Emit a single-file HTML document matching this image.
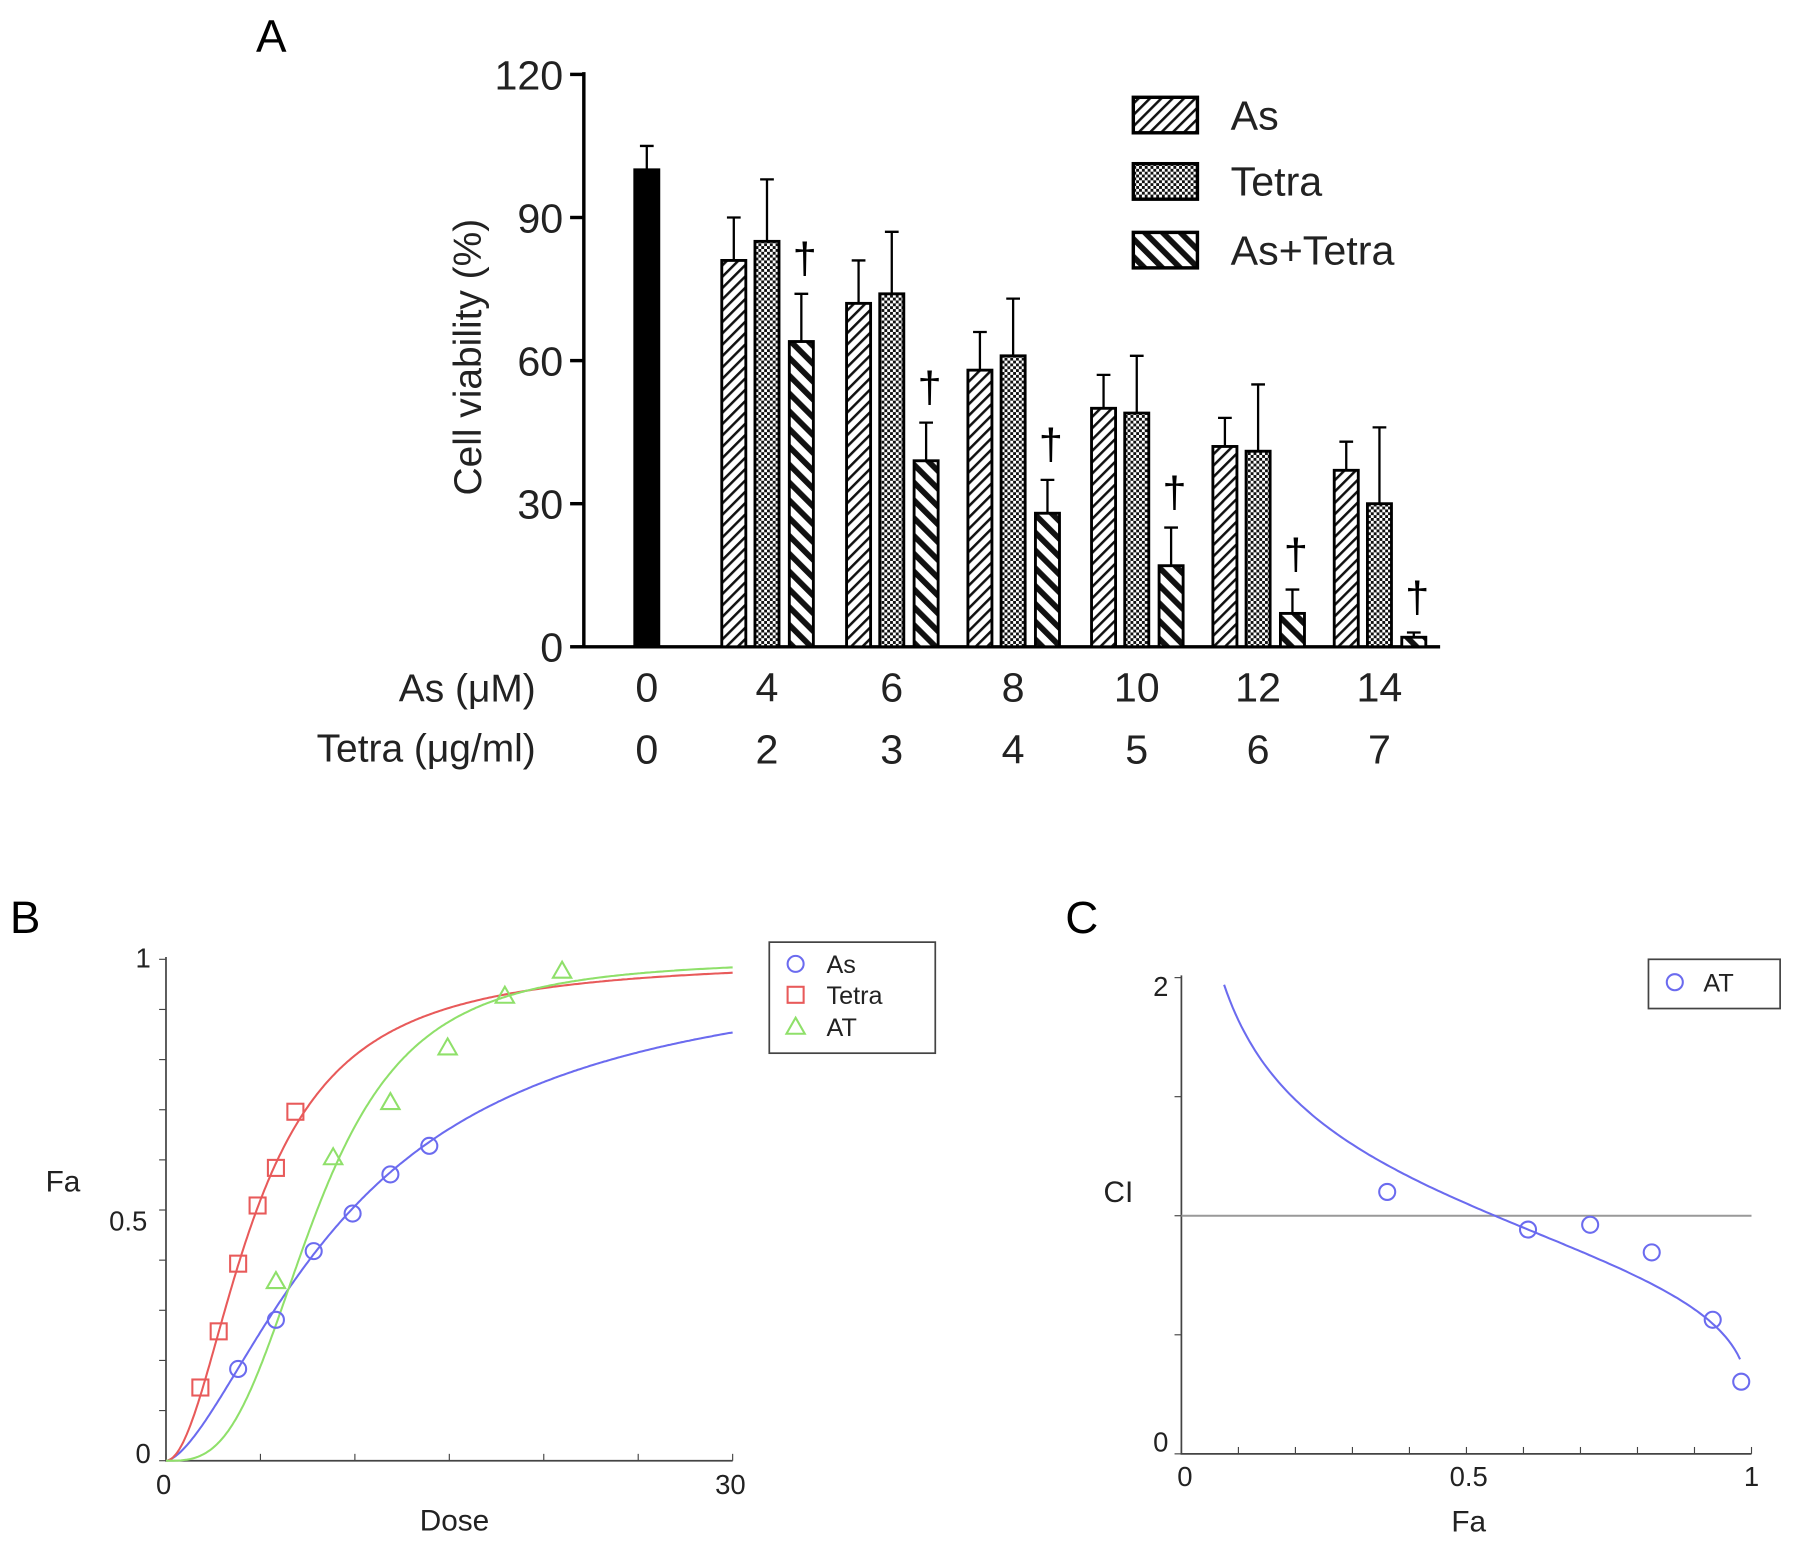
<!DOCTYPE html>
<html><head><meta charset="utf-8"><style>
html,body{margin:0;padding:0;background:#fff}
svg{display:block;font-family:"Liberation Sans",Arial,sans-serif}
</style></head><body>
<svg id="chart" width="1795" height="1546" viewBox="0 0 1568 1350.5" preserveAspectRatio="none" xmlns="http://www.w3.org/2000/svg">
<defs>
<pattern id="pAs" width="7" height="7" patternUnits="userSpaceOnUse" patternTransform="rotate(45)"><rect width="7" height="7" fill="#fff"/><rect width="2.2" height="7" fill="#111"/></pattern>
<pattern id="pTe" width="5" height="5" patternUnits="userSpaceOnUse"><rect width="5" height="5" fill="#fff"/><rect width="2.5" height="2.5" fill="#111"/><rect x="2.5" y="2.5" width="2.5" height="2.5" fill="#111"/></pattern>
<pattern id="pAT" width="11" height="11" patternUnits="userSpaceOnUse" patternTransform="rotate(-45)"><rect width="11" height="11" fill="#fff"/><rect width="5" height="11" fill="#111"/></pattern>
</defs>
<g id="A"></g>
<g id="B"></g>
<g id="C"></g>
</svg>
<script>
// Panel A data
const asDose = ["0","4","6","8","10","12","14"];
const tetraDose = ["0","2","3","4","5","6","7"];
const controlVal = [100];
const controlErr = [105];
const asVals = [81, 72, 58, 50, 42, 37];
const asErr = [90, 81, 66, 57, 48, 43];
const tetraVals = [85, 74, 61, 49, 41, 30];
const tetraErr = [98, 87, 73, 61, 55, 46];
const comboVals = [64, 39, 28, 17, 7, 2];
const comboErr = [74, 47, 35, 25, 12, 3];
const yTicksA = [0, 30, 60, 90, 120];
// Panel B data
const bAsDose = [3.82, 5.82, 7.82, 9.88, 11.88, 13.94];
const bAsFa = [0.183, 0.281, 0.418, 0.493, 0.571, 0.628];
const bTeDose = [1.82, 2.79, 3.82, 4.85, 5.82, 6.85];
const bTeFa = [0.146, 0.258, 0.393, 0.509, 0.584, 0.696];
const bATDose = [5.82, 8.85, 11.88, 14.91, 17.94, 20.97];
const bATFa = [0.358, 0.605, 0.715, 0.824, 0.927, 0.977];
const fitDm = [9.8, 4.8, 8.0];
const fitM = [1.58, 1.96, 3.11];
// Panel C data
const cFa = [0.361, 0.608, 0.717, 0.825, 0.932, 0.982];
const cCI = [1.10, 0.942, 0.962, 0.846, 0.563, 0.303];
const ciCurveK = [0.25];
const ciCurveC = [0.2];

const NS = "http://www.w3.org/2000/svg";
function mk(parent, tag, attrs, text){
  const e = document.createElementNS(NS, tag);
  for (const k in attrs) e.setAttribute(k, attrs[k]);
  if (text !== undefined) e.textContent = text;
  parent.appendChild(e); return e;
}
const A = document.getElementById('A'), B = document.getElementById('B'), C = document.getElementById('C');

// ---------- Panel A ----------
const yA = v => 565 - v * 500 / 120;
const groupX = [565, 670, 779, 885, 993, 1099, 1205];
let t;
t = mk(A, 'text', {x:237, y:45, 'font-size':40, 'text-anchor':'middle'}, 'A');
 
let l = mk(A, 'line', {x1:510, y1:63, x2:510, y2:566, stroke:'#000', 'stroke-width':3});
 
l = mk(A, 'line', {x1:509, y1:565, x2:1258, y2:565, stroke:'#000', 'stroke-width':3});
 
yTicksA.forEach(v => {
  mk(A, 'line', {x1:498, y1:yA(v), x2:510, y2:yA(v), stroke:'#000', 'stroke-width':3});
  const tt = mk(A, 'text', {x:492, y:yA(v)+13, 'font-size':36, 'text-anchor':'end', fill:'#222'}, String(v));
   
});
t = mk(A, 'text', {x:0, y:0, 'font-size':34, 'text-anchor':'middle', transform:'translate(420,312) rotate(-90)', fill:'#222'}, 'Cell viability (%)');
 
t = mk(A, 'text', {x:468, y:613, 'font-size':34, 'text-anchor':'end', fill:'#222'}, 'As (μM)');
 
t = mk(A, 'text', {x:468, y:665, 'font-size':34, 'text-anchor':'end', fill:'#222'}, 'Tetra (μg/ml)');
 
groupX.forEach((gx, i) => {
  let a = mk(A, 'text', {x:gx, y:613, 'font-size':36, 'text-anchor':'middle', fill:'#222'}, asDose[i]);
   
  a = mk(A, 'text', {x:gx, y:667, 'font-size':36, 'text-anchor':'middle', fill:'#222'}, tetraDose[i]);
   
});
function bar(cx, v, e, fill, name){
  const w = 21;
  const r = mk(A, 'rect', {x:cx-w/2, y:yA(v), width:w, height:565-yA(v), fill:fill, stroke:'#000', 'stroke-width':2.5});
   
  const eb = mk(A, 'path', {d:`M${cx} ${yA(v)} V${yA(e)} M${cx-6} ${yA(e)} H${cx+6}`, stroke:'#000', 'stroke-width':2, fill:'none'});
   
}
bar(565, controlVal[0], controlErr[0], '#000', 'bar-control');
for (let i = 0; i < asVals.length; i++){
  const gx = groupX[i+1];
  bar(gx-29, asVals[i], asErr[i], 'url(#pAs)', 'bar-as');
  bar(gx, tetraVals[i], tetraErr[i], 'url(#pTe)', 'bar-tetra');
  bar(gx+30, comboVals[i], comboErr[i], 'url(#pAT)', 'bar-as-tetra');
  const d = mk(A, 'text', {x:gx+33, y:yA(comboErr[i])-18, 'font-size':38, 'text-anchor':'middle'}, '†');
   
}
[['url(#pAs)','As',85],['url(#pTe)','Tetra',143],['url(#pAT)','As+Tetra',203]].forEach(([f, lab, y]) => {
  const g = mk(A, 'g', {});
   
  mk(g, 'rect', {x:990, y:y, width:56, height:31, fill:f, stroke:'#000', 'stroke-width':3});
  mk(g, 'text', {x:1075, y:y+28, 'font-size':36, fill:'#222'}, lab);
});

// ---------- Panel B ----------
const xB = d => 145 + d * 495 / 30;
const yB = f => 1276 - f * 438;
t = mk(B, 'text', {x:22, y:815, 'font-size':40, 'text-anchor':'middle'}, 'B');
 
l = mk(B, 'path', {d:'M145 836 V1276 H640', stroke:'#444', 'stroke-width':1.5, fill:'none'});
 
for (let i = 0; i <= 30; i += 5) mk(B, 'line', {x1:xB(i), y1:1276, x2:xB(i), y2:1270, stroke:'#444'});
for (let f = 0; f <= 1.001; f += 0.1) mk(B, 'line', {x1:139, y1:yB(f), x2:145, y2:yB(f), stroke:'#444'});
[['1',125,845],['0.5',112,1075],['0',125,1278],['0',143,1305],['30',638,1305]].forEach(([s,x,y]) => {
  const a = mk(B, 'text', {x:x, y:y, 'font-size':24, 'text-anchor':'middle', fill:'#222'}, s);
   
});
t = mk(B, 'text', {x:397, y:1337, 'font-size':26, 'text-anchor':'middle', fill:'#222'}, 'Dose');
 
t = mk(B, 'text', {x:55, y:1041, 'font-size':26, 'text-anchor':'middle', fill:'#222'}, 'Fa');
 
const colors = ['#6b6bef', '#e85a5a', '#8fe06a'];
const names = ['as', 'tetra', 'at'];
for (let s = 0; s < 3; s++){
  let d = '';
  for (let i = 0; i <= 300; i++){
    const D = 0.001 + i * 0.1;
    const f = 1 / (1 + Math.pow(fitDm[s] / D, fitM[s]));
    d += (i ? 'L' : 'M') + xB(D).toFixed(1) + ' ' + yB(f).toFixed(1);
  }
  const p = mk(B, 'path', {d:d, stroke:colors[s], 'stroke-width':1.8, fill:'none'});
   
}
function marker(parent, kind, cx, cy, col){
  let m;
  if (kind === 0) m = mk(parent, 'circle', {cx:cx, cy:cy, r:7, fill:'none', stroke:col, 'stroke-width':1.8});
  else if (kind === 1) m = mk(parent, 'rect', {x:cx-7, y:cy-7, width:14, height:14, fill:'none', stroke:col, 'stroke-width':1.8});
  else m = mk(parent, 'path', {d:`M${cx} ${cy-8} L${cx+8} ${cy+6} L${cx-8} ${cy+6}Z`, fill:'none', stroke:col, 'stroke-width':1.8});
  return m;
}
[[bAsDose,bAsFa],[bTeDose,bTeFa],[bATDose,bATFa]].forEach(([xs, ys], s) => {
  xs.forEach((x, i) => {
    const m = marker(B, s, xB(x), yB(ys[i]), colors[s]);
     
  });
});
let lg = mk(B, 'g', {});
 
mk(lg, 'rect', {x:672, y:823, width:145, height:97, fill:'#fff', stroke:'#444', 'stroke-width':1.5});
[['As',842],['Tetra',869],['AT',897]].forEach(([s, y], i) => {
  marker(lg, i, 695, y, colors[i]);
  mk(lg, 'text', {x:722, y:y+8, 'font-size':22, fill:'#222'}, s);
});

// ---------- Panel C ----------
const xC = f => 1032 + f * 498;
const yC = v => 1270 - v * 208;
t = mk(C, 'text', {x:945, y:815, 'font-size':40, 'text-anchor':'middle'}, 'C');
 
l = mk(C, 'path', {d:'M1032 852 V1270 H1530', stroke:'#444', 'stroke-width':1.5, fill:'none'});
 
for (let f = 0; f <= 1.001; f += 0.1) mk(C, 'line', {x1:xC(f), y1:1270, x2:xC(f), y2:1264, stroke:'#444'});
for (let v = 0; v <= 2.001; v += 0.5) mk(C, 'line', {x1:1026, y1:yC(v), x2:1032, y2:yC(v), stroke:'#444'});
l = mk(C, 'line', {x1:1032, y1:yC(1), x2:1530, y2:yC(1), stroke:'#999', 'stroke-width':1.8});
 
[['2',1014,870],['0',1014,1268],['0',1035,1298],['0.5',1283,1298],['1',1530,1298]].forEach(([s,x,y]) => {
  const a = mk(C, 'text', {x:x, y:y, 'font-size':24, 'text-anchor':'middle', fill:'#222'}, s);
   
});
t = mk(C, 'text', {x:1283, y:1338, 'font-size':26, 'text-anchor':'middle', fill:'#222'}, 'Fa');
 
t = mk(C, 'text', {x:977, y:1050, 'font-size':26, 'text-anchor':'middle', fill:'#222'}, 'CI');
 
let dc = '';
let first = true;
for (let f = 0.06; f <= 0.981; f += 0.005){
  const ci = Math.exp(-ciCurveK[0] * (Math.log(f / (1 - f)) - ciCurveC[0]));
  if (ci > 2.0) continue;
  dc += (first ? 'M' : 'L') + xC(f).toFixed(1) + ' ' + yC(ci).toFixed(1);
  first = false;
}
l = mk(C, 'path', {d:dc, stroke:colors[0], 'stroke-width':1.8, fill:'none'});
 
cFa.forEach((f, i) => {
  const m = mk(C, 'circle', {cx:xC(f), cy:yC(cCI[i]), r:7, fill:'none', stroke:colors[0], 'stroke-width':1.8});
   
});
lg = mk(C, 'g', {});
 
mk(lg, 'rect', {x:1440, y:838, width:115, height:43, fill:'#fff', stroke:'#444', 'stroke-width':1.5});
mk(lg, 'circle', {cx:1463, cy:858, r:7, fill:'none', stroke:colors[0], 'stroke-width':1.8});
mk(lg, 'text', {x:1488, y:866, 'font-size':22, fill:'#222'}, 'AT');
</script>
</body></html>
